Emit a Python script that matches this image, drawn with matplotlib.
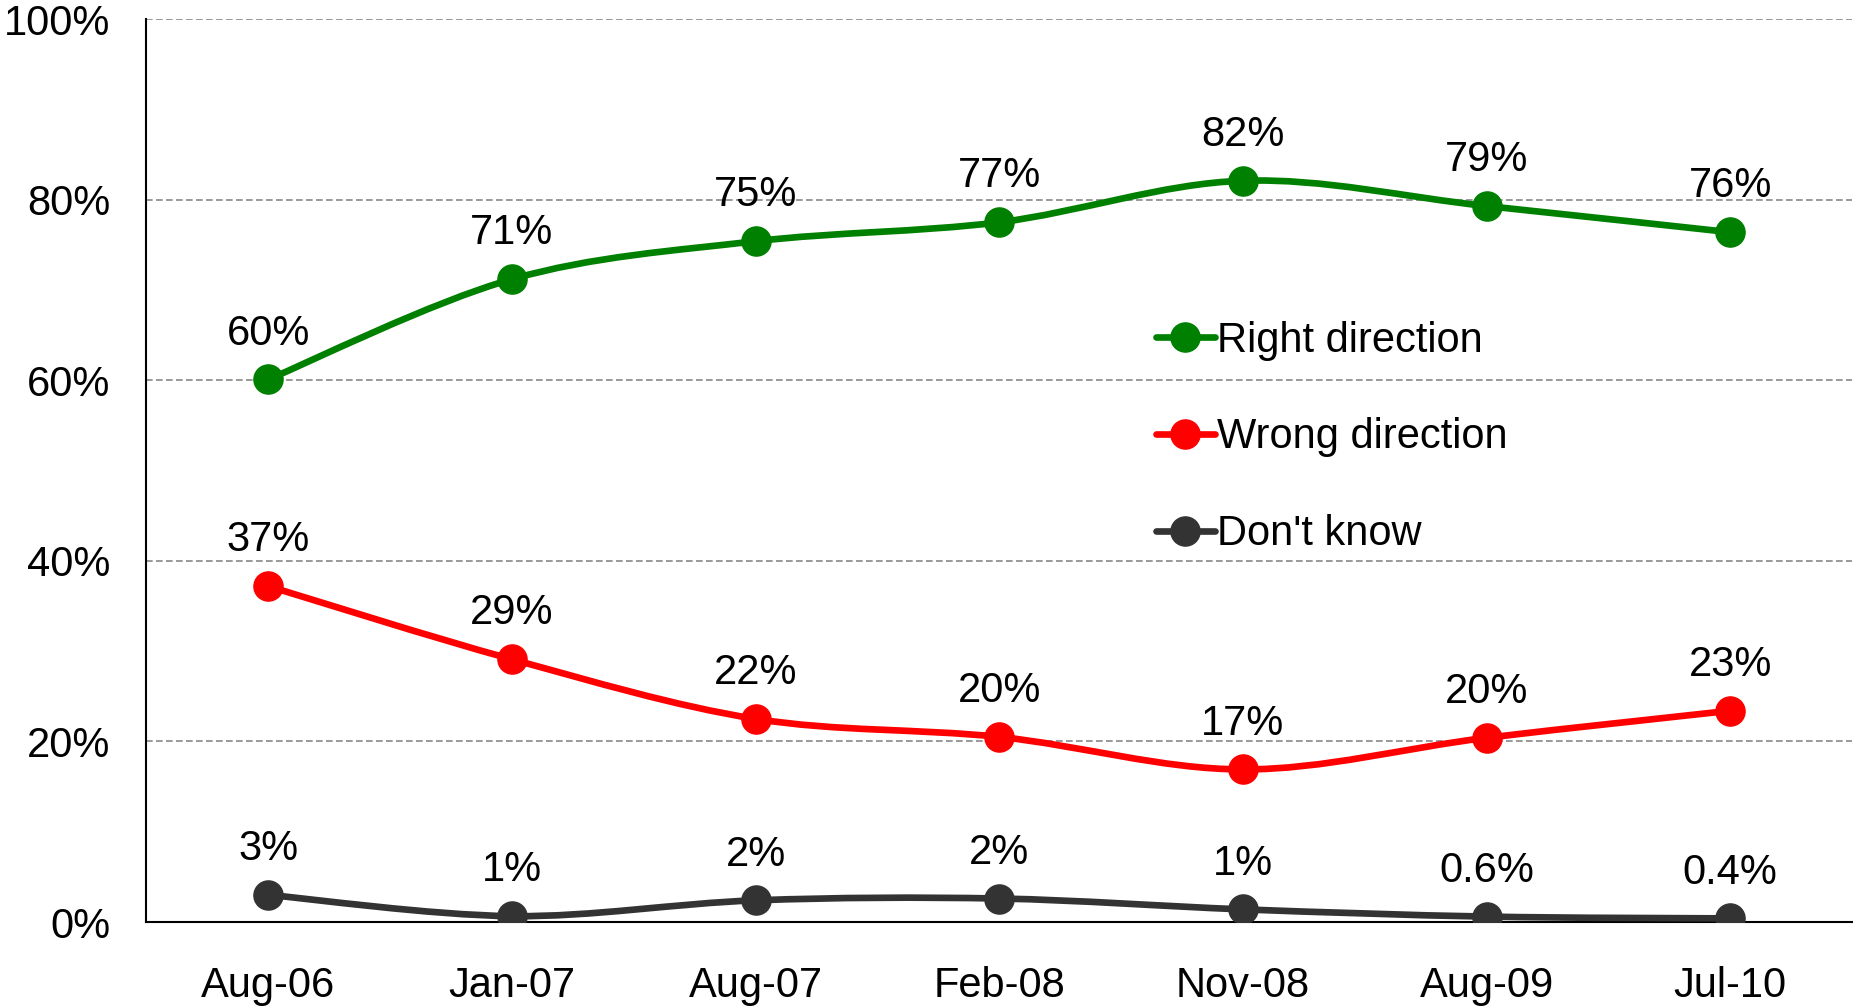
import numpy as np
import matplotlib.pyplot as plt
from matplotlib.path import Path
from matplotlib.patches import PathPatch
from matplotlib.lines import Line2D

plt.rcParams['font.family'] = ['Liberation Sans', 'DejaVu Sans']

dates = ['Aug-06', 'Jan-07', 'Aug-07', 'Feb-08', 'Nov-08', 'Aug-09', 'Jul-10']
right = [60.1, 71.2, 75.4, 77.5, 82.1, 79.3, 76.4]
wrong = [37.2, 29.1, 22.5, 20.5, 16.9, 20.4, 23.4]
dont_know = [3.0, 0.65, 2.4, 2.6, 1.4, 0.6, 0.4]
right_lbl = ['60%', '71%', '75%', '77%', '82%', '79%', '76%']
wrong_lbl = ['37%', '29%', '22%', '20%', '17%', '20%', '23%']
dk_lbl = ['3%', '1%', '2%', '2%', '1%', '0.6%', '0.4%']

series = [
    ('Right direction', right, right_lbl, '#008000'),
    ('Wrong direction', wrong, wrong_lbl, '#ff0000'),
    ("Don't know", dont_know, dk_lbl, '#333333'),
]

# smooth curve like excel: cubic bezier through points (catmull-rom controls)
def smooth_path(x, y):
    pts = np.column_stack([x, y]).astype(float)
    n = len(pts)
    verts = [pts[0]]
    codes = [Path.MOVETO]
    for i in range(n - 1):
        p0 = pts[i - 1] if i > 0 else pts[i]
        p1 = pts[i]
        p2 = pts[i + 1]
        p3 = pts[i + 2] if i + 2 < n else pts[i + 1]
        c1 = p1 + (p2 - p0) / 6.0
        c2 = p2 - (p3 - p1) / 6.0
        verts += [c1, c2, p2]
        codes += [Path.CURVE4] * 3
    return Path(verts, codes)

fig = plt.figure(figsize=(18.53, 10.07), dpi=100)
ax = fig.add_axes([0.079, 0.0844, 0.9205, 0.8966])

x = np.arange(len(dates))
fs = 30
lw = 4.8
ms = 21
handles = []
for name, vals, lbls, col in series:
    patch = PathPatch(smooth_path(x, vals), facecolor='none', edgecolor=col,
                      lw=lw, capstyle='round', zorder=3)
    ax.add_patch(patch)
    ax.plot(x, vals, 'o', color=col, ms=ms, zorder=4)
    for xi, v, t in zip(x, vals, lbls):
        ax.annotate(t, (xi, v), xytext=(0, 33), textcoords='offset points',
                    ha='center', va='center', fontsize=fs, zorder=5)
    handles.append(Line2D([], [], color=col, lw=lw, marker='o', ms=ms,
                          solid_capstyle='round', label=name))

ax.set_xlim(-0.5, 6.5)
ax.set_ylim(0, 100)
ax.set_xticks(x)
ax.set_xticklabels(dates)
ax.set_yticks(np.arange(0, 101, 20))
ax.set_yticklabels([f'{v}%' for v in range(0, 101, 20)])
ax.tick_params(axis='both', length=0, labelsize=fs)
ax.tick_params(axis='x', pad=32)
ax.tick_params(axis='y', pad=26)
ax.yaxis.grid(True, ls=(0, (4, 2)), color='#888888', lw=1.2)
ax.set_axisbelow(True)
for s in ['top', 'right']:
    ax.spines[s].set_visible(False)
ax.spines['left'].set_linewidth(1.5)
ax.spines['bottom'].set_linewidth(1.5)

leg = fig.legend(handles=handles, loc='upper left', bbox_to_anchor=(0.615, 0.698),
                 frameon=False, fontsize=fs, handlelength=1.4, handletextpad=0.05,
                 labelspacing=1.36, borderaxespad=0)

plt.savefig('out.png', dpi=100)
